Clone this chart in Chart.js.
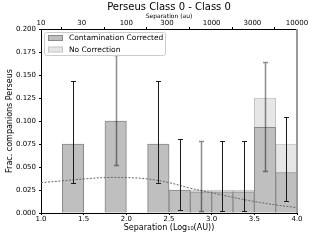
<!DOCTYPE html>
<html>
<head>
<meta charset="utf-8">
<script src="https://cdn.jsdelivr.net/npm/chart.js@4"></script>
<style>
  body { margin: 0; background: #fff; }
  canvas { display: block; }
</style>
</head>
<body>
<canvas id="sep_chart" width="330" height="240"></canvas>
<script>
// bins in log10(AU), width 0.25
let binCenters = [1.125, 1.375, 1.625, 1.875, 2.125, 2.375, 2.625, 2.875, 3.125, 3.375, 3.625, 3.875];
let fracCorrected = [0, 0.075, 0, 0.100, 0, 0.075, 0.025, 0.023, 0.023, 0.023, 0.093, 0.044];
let fracNoCorr = [0, 0.075, 0, 0.100, 0, 0.075, 0.025, 0.025, 0.025, 0.025, 0.125, 0.075];

// error bars (low / high), null = not drawn
let errCorrLow = [null, 0.033, null, null, null, 0.033, 0.003, null, 0.002, 0.002, null, 0.013];
let errCorrHigh = [null, 0.143, null, null, null, 0.143, 0.080, null, 0.078, 0.078, null, 0.104];
let errNoCorrLow = [null, null, null, 0.052, null, null, null, 0.002, null, null, 0.046, null];
let errNoCorrHigh = [null, null, null, 0.172, null, null, null, 0.078, null, null, 0.164, null];

// field distribution curve
let curveX = [1.0, 1.25, 1.5, 1.75, 2.0, 2.25, 2.5, 2.75, 3.0, 3.25, 3.5, 3.75, 4.0];
let curveY = [0.033, 0.035, 0.037, 0.0385, 0.0385, 0.037, 0.033, 0.027, 0.022, 0.017, 0.0125, 0.0088, 0.0058];

// top axis ticks in au
let auTicks = [10, 30, 100, 300, 1000, 3000, 10000];

Chart.defaults.font.family = 'DejaVu Sans';
Chart.defaults.color = '#000';

const errorBars = {
    id: 'errorBars',
    afterDatasetsDraw(chart) {
        const ctx = chart.ctx;
        const x = chart.scales.x, y = chart.scales.y;
        function drawSet(lows, highs, color, width) {
            ctx.save();
            ctx.strokeStyle = color;
            ctx.lineWidth = width;
            binCenters.forEach(function(c, i) {
                if (lows[i] == null) return;
                const px = Math.round(x.getPixelForValue(c)) + 0.5;
                const yl = Math.round(y.getPixelForValue(lows[i])) + 0.5;
                const yh = Math.round(y.getPixelForValue(highs[i])) + 0.5;
                ctx.beginPath();
                ctx.moveTo(px, yl); ctx.lineTo(px, yh);
                ctx.moveTo(px - 2.5, yl); ctx.lineTo(px + 2.5, yl);
                ctx.moveTo(px - 2.5, yh); ctx.lineTo(px + 2.5, yh);
                ctx.stroke();
            });
            ctx.restore();
        }
        drawSet(errCorrLow, errCorrHigh, '#1a1a1a', 1);
        drawSet(errNoCorrLow, errNoCorrHigh, 'rgba(0,0,0,0.45)', 1.5);
    },
    afterDraw(chart) {
        const ctx = chart.ctx;
        const a = chart.chartArea;
        // right spine
        ctx.save();
        ctx.strokeStyle = '#999';
        ctx.lineWidth = 2;
        ctx.beginPath();
        ctx.moveTo(a.right, a.top);
        ctx.lineTo(a.right, a.bottom);
        ctx.stroke();

        // legend box inside the plot
        const lx = a.left + 3, ly = a.top + 3, lw = 121, lh = 23;
        ctx.fillStyle = 'rgba(255,255,255,0.85)';
        ctx.strokeStyle = '#cccccc';
        ctx.lineWidth = 1;
        ctx.beginPath();
        ctx.roundRect(lx + 0.5, ly + 0.5, lw, lh, 2);
        ctx.fill();
        ctx.stroke();

        const ds = chart.data.datasets;
        const rows = [ds[1], ds[2]];
        ctx.font = '7.5px "DejaVu Sans"';
        ctx.textBaseline = 'middle';
        rows.forEach(function(d, i) {
            const ry = ly + 6 + i * 11.5;
            ctx.fillStyle = d.backgroundColor;
            ctx.strokeStyle = d.borderColor;
            ctx.fillRect(lx + 4, ry - 2.5, 15, 5);
            ctx.strokeRect(lx + 4.5, ry - 2.5, 14, 5);
            ctx.fillStyle = '#000';
            ctx.fillText(d.label, lx + 25, ry + 0.5);
        });
        ctx.restore();
    }
};

let ctx = document.getElementById('sep_chart');

let sep_chart = new Chart(ctx, {
    type: 'bar',
    data: {
        datasets: [
            {
                type: 'line',
                label: 'curve',
                data: curveX.map((v, i) => ({x: v, y: curveY[i]})),
                borderColor: '#666',
                borderWidth: 1,
                borderDash: [2, 1.5],
                pointRadius: 0,
                tension: 0.4,
                fill: false,
                order: 0
            },
            {
                label: 'Contamination Corrected',
                data: binCenters.map((v, i) => ({x: v, y: fracCorrected[i]})),
                backgroundColor: '#bfbfbf',
                borderColor: '#8a8a8a',
                borderWidth: 1,
                grouped: false,
                barPercentage: 1,
                categoryPercentage: 1,
                order: 1
            },
            {
                label: 'No Correction',
                data: binCenters.map((v, i) => ({x: v, y: fracNoCorr[i]})),
                backgroundColor: '#e6e6e6',
                borderColor: '#c4c4c4',
                borderWidth: 1,
                grouped: false,
                barPercentage: 1,
                categoryPercentage: 1,
                order: 2
            }
        ]
    },
    options: {
        responsive: false,
        animation: false,
        layout: {
            padding: {left: 0, right: 33, top: 0, bottom: 0}
        },
        scales: {
            x: {
                type: 'linear',
                position: 'bottom',
                min: 1,
                max: 4,
                offset: false,
                afterFit: s => { s.height = 27; },
                grid: {display: true, drawOnChartArea: false, drawTicks: true, tickLength: 2, color: '#000', offset: false},
                border: {display: true, color: '#000', width: 1},
                ticks: {
                    stepSize: 0.5,
                    padding: 0,
                    maxRotation: 0,
                    autoSkip: false,
                    font: {size: 7},
                    callback: v => v.toFixed(1)
                },
                title: {
                    display: true,
                    text: 'Separation (Log₁₀(AU))',
                    font: {size: 8},
                    padding: {top: 0, bottom: 7}
                }
            },
            x2: {
                type: 'linear',
                position: 'top',
                min: 1,
                max: 4,
                offset: false,
                afterFit: s => { s.height = 16; },
                afterBuildTicks: s => { s.ticks = auTicks.map(v => ({value: Math.log10(v)})); },
                grid: {display: true, drawOnChartArea: false, drawTicks: true, tickLength: 2, color: '#000'},
                border: {display: true, color: '#000', width: 1},
                ticks: {
                    padding: 0,
                    maxRotation: 0,
                    autoSkip: false,
                    font: {size: 7},
                    callback: (v, i) => String(auTicks[i])
                },
                title: {
                    display: true,
                    text: 'Separation (au)',
                    font: {size: 6},
                    padding: {top: 0, bottom: 0}
                }
            },
            y: {
                min: 0,
                max: 0.2,
                afterFit: s => { s.width = 41; },
                grid: {display: true, drawOnChartArea: false, drawTicks: true, tickLength: 2, color: '#000'},
                border: {display: true, color: '#000', width: 1},
                ticks: {
                    stepSize: 0.025,
                    padding: 3,
                    font: {size: 7},
                    callback: v => v.toFixed(3)
                },
                title: {
                    display: true,
                    text: 'Frac. companions Perseus',
                    font: {size: 8},
                    padding: {top: 5, bottom: 0}
                }
            }
        },
        plugins: {
            legend: {display: false},
            tooltip: {enabled: false},
            title: {
                display: true,
                text: 'Perseus Class 0 - Class 0',
                fullSize: false,
                font: {size: 10, weight: 'normal'},
                color: '#000',
                padding: {top: 1, bottom: 0}
            }
        }
    },
    plugins: [errorBars]
});
</script>
</body>
</html>
